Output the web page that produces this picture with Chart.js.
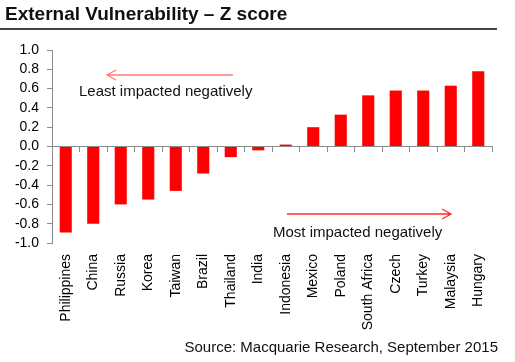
<!DOCTYPE html>
<html>
<head>
<meta charset="utf-8">
<script src="https://cdn.jsdelivr.net/npm/chart.js@4.4.1/dist/chart.umd.min.js"></script>
<style>
  html, body { margin: 0; padding: 0; background: #fff; }
  #wrap { position: relative; width: 515px; height: 362px; font-family: Arial, "Liberation Sans", sans-serif; }
  #chart { position: absolute; left: 0; top: 0; }
  .title { position: absolute; left: 5px; top: 3px; font-size: 19px; font-weight: bold; color: #111; }
  .rule { position: absolute; left: 0; top: 28px; width: 497px; height: 2px; background: #444; }
  .note { position: absolute; font-size: 15px; color: #111; white-space: nowrap; }
  .source { position: absolute; right: 17px; top: 338px; font-size: 15px; color: #111; }
  svg { position: absolute; left: 0; top: 0; }
</style>
</head>
<body>
<div id="wrap">
  <canvas id="chart" width="515" height="362"></canvas>
  <div class="title">External Vulnerability – Z score</div>
  <div class="rule"></div>
  <svg width="515" height="362">
    <g fill="none" stroke-width="1.3">
      <path d="M107 75 L233 75 M116 70 L107 75 L116 80" stroke="#ff7a7a"/>
      <path d="M287 214 L451 214 M442 209 L451 214 L442 219" stroke="#ff2a2a"/>
    </g>
  </svg>
  <div class="note" style="left:79px; top:82px;">Least impacted negatively</div>
  <div class="note" style="left:273px; top:223px;">Most impacted negatively</div>
  <div class="source">Source: Macquarie Research, September 2015</div>
</div>
<script>
// data
const countries = ['Philippines', 'China', 'Russia', 'Korea', 'Taiwan', 'Brazil', 'Thailand', 'India',
                   'Indonesia', 'Mexico', 'Poland', 'South Africa', 'Czech', 'Turkey', 'Malaysia', 'Hungary'];
const zScores = [-0.89, -0.80, -0.60, -0.55, -0.46, -0.28, -0.11, -0.04,
                 0.02, 0.20, 0.33, 0.53, 0.58, 0.58, 0.63, 0.78];
const yTicks = [-1.0, -0.8, -0.6, -0.4, -0.2, 0.0, 0.2, 0.4, 0.6, 0.8, 1.0];

const axisGrey = '#8c8c8c';
const tickFont = { family: 'Arial, "Liberation Sans", sans-serif', size: 14 };

new Chart(document.getElementById('chart'), {
    type: 'bar',
    data: {
        labels: countries,
        datasets: [{
            data: zScores,
            backgroundColor: '#ff0000',
            borderWidth: 0,
            barPercentage: 0.44,
            categoryPercentage: 1.0
        }]
    },
    options: {
        responsive: false,
        animation: false,
        layout: { padding: { top: 50, right: 23, bottom: 0, left: 0 } },
        plugins: { legend: { display: false }, tooltip: { enabled: false } },
        scales: {
            // labels along the bottom
            x: {
                type: 'category',
                position: 'bottom',
                offset: true,
                grid: { display: false },
                border: { display: false },
                ticks: { color: '#000', font: tickFont, minRotation: 90, maxRotation: 90, padding: 3, autoSkip: false },
                afterFit: s => { s.height = 119; }
            },
            // axis line + tick marks sitting on zero
            xz: {
                type: 'category',
                position: { y: 0 },
                offset: true,
                grid: { offset: true, drawOnChartArea: false, drawTicks: true, tickLength: 5, color: axisGrey },
                border: { display: true, color: axisGrey, width: 1 },
                ticks: { display: false }
            },
            y: {
                min: -1, max: 1,
                afterBuildTicks: s => { s.ticks = yTicks.map(v => ({ value: v })); },
                grid: { drawOnChartArea: false, tickLength: 5, color: axisGrey },
                border: { display: true, color: axisGrey, width: 1 },
                ticks: { color: '#000', font: tickFont, padding: 8, autoSkip: false, callback: v => v.toFixed(1) },
                afterFit: s => { s.width = 52; }
            }
        }
    }
});
</script>
</body>
</html>
